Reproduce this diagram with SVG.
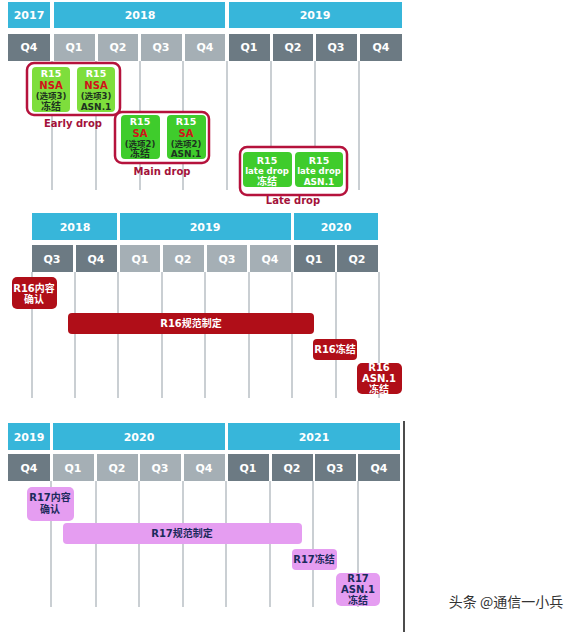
<svg xmlns="http://www.w3.org/2000/svg" width="580" height="632" viewBox="0 0 580 632">
<defs>
<style>
.yr{fill:#37b6da}
.qd{fill:#6c7a83}
.ql{fill:#a5afb5}
.ht{font-family:"DejaVu Sans","Noto Sans CJK SC",sans-serif;font-weight:bold;font-size:11px;fill:#fff;text-anchor:middle}
.grid line{stroke:#b9bfc5;stroke-width:1.5}
.grp{fill:#fff;stroke:#b5123c;stroke-width:2.5}
.gl{fill:#7ede3c}
.gs{fill:#3fcc2c}
.t{font-family:"DejaVu Sans","Noto Sans CJK SC",sans-serif;font-weight:bold;text-anchor:middle}
.w{fill:#fff}
.rd{fill:#d0141a}
.dk{fill:#1d3320}
.lbl{font-family:"DejaVu Sans",sans-serif;font-weight:bold;font-size:10px;fill:#a3123a;text-anchor:middle}
.r16{fill:#b00e18}
.r17{fill:#e59df1}
.nv{fill:#1b2a5c}
</style>
</defs>

<!-- Section 1 header -->
<g id="header1">
<rect class="yr" x="8" y="2" width="42" height="26"/>
<rect class="yr" x="54" y="2" width="171" height="26"/>
<rect class="yr" x="229" y="2" width="173" height="26"/>
<text class="ht" x="29" y="19">2017</text>
<text class="ht" x="140" y="19">2018</text>
<text class="ht" x="315" y="19">2019</text>
<rect class="qd" x="8" y="34" width="42" height="27"/>
<rect class="ql" x="54" y="34" width="41" height="27"/>
<rect class="ql" x="98" y="34" width="40" height="27"/>
<rect class="ql" x="141" y="34" width="41" height="27"/>
<rect class="ql" x="185" y="34" width="40" height="27"/>
<rect class="qd" x="229" y="34" width="41" height="27"/>
<rect class="qd" x="273" y="34" width="40" height="27"/>
<rect class="qd" x="316" y="34" width="41" height="27"/>
<rect class="qd" x="360" y="34" width="42" height="27"/>
<text class="ht" x="29" y="51">Q4</text>
<text class="ht" x="74" y="51">Q1</text>
<text class="ht" x="118" y="51">Q2</text>
<text class="ht" x="161" y="51">Q3</text>
<text class="ht" x="205" y="51">Q4</text>
<text class="ht" x="249" y="51">Q1</text>
<text class="ht" x="293" y="51">Q2</text>
<text class="ht" x="336" y="51">Q3</text>
<text class="ht" x="381" y="51">Q4</text>
</g>

<g id="connectors">
<g class="grid">
<line x1="52" y1="61" x2="52" y2="190"/>
<line x1="96" y1="61" x2="96" y2="190"/>
<line x1="140" y1="61" x2="140" y2="190"/>
<line x1="183" y1="61" x2="183" y2="190"/>
<line x1="227" y1="61" x2="227" y2="190"/>
<line x1="271" y1="61" x2="271" y2="190"/>
<line x1="315" y1="61" x2="315" y2="190"/>
<line x1="359" y1="61" x2="359" y2="190"/>
</g>
<g class="grid">
<line x1="32" y1="272" x2="32" y2="398"/>
<line x1="75" y1="272" x2="75" y2="398"/>
<line x1="118" y1="272" x2="118" y2="398"/>
<line x1="162" y1="272" x2="162" y2="398"/>
<line x1="205" y1="272" x2="205" y2="398"/>
<line x1="249" y1="272" x2="249" y2="398"/>
<line x1="292" y1="272" x2="292" y2="398"/>
<line x1="336" y1="272" x2="336" y2="398"/>
<line x1="379" y1="272" x2="379" y2="398"/>
</g>
<g class="grid">
<line x1="51" y1="481" x2="51" y2="607"/>
<line x1="96" y1="481" x2="96" y2="607"/>
<line x1="139" y1="481" x2="139" y2="607"/>
<line x1="183" y1="481" x2="183" y2="607"/>
<line x1="226" y1="481" x2="226" y2="607"/>
<line x1="270" y1="481" x2="270" y2="607"/>
<line x1="313" y1="481" x2="313" y2="607"/>
<line x1="358" y1="481" x2="358" y2="607"/>
</g>
</g>

<!-- Early drop -->
<g id="early-drop">
<rect class="grp" x="27" y="63" width="93" height="52" rx="7"/>
<rect class="gl" x="32" y="67" width="38" height="45" rx="4"/>
<rect class="gl" x="77" y="67" width="38" height="45" rx="4"/>
<text class="t w" x="51" y="77" font-size="9.5">R15</text>
<text class="t rd" x="51" y="89" font-size="10">NSA</text>
<text class="t dk" x="51" y="99" font-size="8.5">(选项3)</text>
<text class="t dk" x="51" y="110" font-size="10">冻结</text>
<text class="t w" x="96" y="77" font-size="9.5">R15</text>
<text class="t rd" x="96" y="89" font-size="10">NSA</text>
<text class="t dk" x="96" y="99" font-size="8.5">(选项3)</text>
<text class="t dk" x="96" y="110" font-size="9">ASN.1</text>
<text class="lbl" x="73" y="127">Early drop</text>
</g>

<!-- Main drop -->
<g id="main-drop">
<rect class="grp" x="115" y="112" width="94" height="51" rx="7"/>
<rect class="gs" x="121" y="115" width="39" height="44" rx="4"/>
<rect class="gs" x="167" y="115" width="39" height="44" rx="4"/>
<text class="t w" x="140" y="125" font-size="9.5">R15</text>
<text class="t rd" x="140" y="137" font-size="10">SA</text>
<text class="t dk" x="140" y="147" font-size="8.5">(选项2)</text>
<text class="t dk" x="140" y="157" font-size="10">冻结</text>
<text class="t w" x="186" y="125" font-size="9.5">R15</text>
<text class="t rd" x="186" y="137" font-size="10">SA</text>
<text class="t dk" x="186" y="147" font-size="8.5">(选项2)</text>
<text class="t dk" x="186" y="157" font-size="9">ASN.1</text>
<text class="lbl" x="162" y="175">Main drop</text>
</g>

<!-- Late drop -->
<g id="late-drop">
<rect class="grp" x="240" y="147" width="107" height="48" rx="7"/>
<rect class="gs" x="243" y="152" width="49" height="35" rx="4"/>
<rect class="gs" x="295" y="152" width="48" height="35" rx="4"/>
<text class="t w" x="267" y="164" font-size="9.5">R15</text>
<text class="t w" x="267" y="174" font-size="8.5">late drop</text>
<text class="t w" x="267" y="185" font-size="10">冻结</text>
<text class="t w" x="319" y="164" font-size="9.5">R15</text>
<text class="t w" x="319" y="174" font-size="8.5">late drop</text>
<text class="t w" x="319" y="185" font-size="9">ASN.1</text>
<text class="lbl" x="293" y="204">Late drop</text>
</g>

<!-- Section 2 header -->
<g id="header2">
<rect class="yr" x="32" y="213" width="85" height="27"/>
<rect class="yr" x="120" y="213" width="171" height="27"/>
<rect class="yr" x="294" y="213" width="84" height="27"/>
<text class="ht" x="75" y="231">2018</text>
<text class="ht" x="205" y="231">2019</text>
<text class="ht" x="336" y="231">2020</text>
<rect class="qd" x="32" y="245" width="41" height="27"/>
<rect class="qd" x="76" y="245" width="41" height="27"/>
<rect class="ql" x="120" y="245" width="40" height="27"/>
<rect class="ql" x="163" y="245" width="41" height="27"/>
<rect class="ql" x="207" y="245" width="40" height="27"/>
<rect class="ql" x="250" y="245" width="41" height="27"/>
<rect class="qd" x="294" y="245" width="41" height="27"/>
<rect class="qd" x="337" y="245" width="41" height="27"/>
<text class="ht" x="52" y="263">Q3</text>
<text class="ht" x="96" y="263">Q4</text>
<text class="ht" x="140" y="263">Q1</text>
<text class="ht" x="183" y="263">Q2</text>
<text class="ht" x="227" y="263">Q3</text>
<text class="ht" x="270" y="263">Q4</text>
<text class="ht" x="314" y="263">Q1</text>
<text class="ht" x="357" y="263">Q2</text>
</g>

<g id="r16-content">
<rect class="r16" x="12" y="277" width="45" height="32" rx="5"/>
<text class="t w" x="34" y="292" font-size="10">R16内容</text>
<text class="t w" x="34" y="303" font-size="10">确认</text>
</g>
<g id="r16-spec">
<rect class="r16" x="68" y="313" width="246" height="21" rx="4"/>
<text class="t w" x="191" y="327" font-size="10">R16规范制定</text>
</g>
<g id="r16-freeze">
<rect class="r16" x="313" y="339" width="44" height="21" rx="4"/>
<text class="t w" x="335" y="353" font-size="10">R16冻结</text>
</g>
<g id="r16-asn">
<rect class="r16" x="357" y="363" width="45" height="31" rx="5"/>
<text class="t w" x="379" y="371" font-size="10">R16</text>
<text class="t w" x="379" y="382" font-size="10">ASN.1</text>
<text class="t w" x="379" y="393" font-size="10">冻结</text>
</g>

<!-- Section 3 header -->
<g id="header3">
<rect class="yr" x="8" y="423" width="42" height="27"/>
<rect class="yr" x="53" y="423" width="172" height="27"/>
<rect class="yr" x="228" y="423" width="172" height="27"/>
<text class="ht" x="29" y="441">2019</text>
<text class="ht" x="139" y="441">2020</text>
<text class="ht" x="314" y="441">2021</text>
<rect class="qd" x="8" y="454" width="42" height="27"/>
<rect class="ql" x="53" y="454" width="41" height="27"/>
<rect class="ql" x="97" y="454" width="41" height="27"/>
<rect class="ql" x="140" y="454" width="41" height="27"/>
<rect class="ql" x="184" y="454" width="41" height="27"/>
<rect class="qd" x="228" y="454" width="41" height="27"/>
<rect class="qd" x="272" y="454" width="41" height="27"/>
<rect class="qd" x="315" y="454" width="41" height="27"/>
<rect class="qd" x="358" y="454" width="42" height="27"/>
<text class="ht" x="29" y="472">Q4</text>
<text class="ht" x="73" y="472">Q1</text>
<text class="ht" x="117" y="472">Q2</text>
<text class="ht" x="160" y="472">Q3</text>
<text class="ht" x="204" y="472">Q4</text>
<text class="ht" x="248" y="472">Q1</text>
<text class="ht" x="292" y="472">Q2</text>
<text class="ht" x="335" y="472">Q3</text>
<text class="ht" x="379" y="472">Q4</text>
</g>
<line x1="404" y1="421" x2="404" y2="632" stroke="#111" stroke-width="1.5"/>

<g id="r17-content">
<rect class="r17" x="27" y="487" width="47" height="34" rx="5"/>
<text class="t nv" x="50" y="501" font-size="10">R17内容</text>
<text class="t nv" x="50" y="513" font-size="10">确认</text>
</g>
<g id="r17-spec">
<rect class="r17" x="63" y="523" width="239" height="21" rx="4"/>
<text class="t nv" x="182" y="537" font-size="10">R17规范制定</text>
</g>
<g id="r17-freeze">
<rect class="r17" x="292" y="549" width="45" height="21" rx="4"/>
<text class="t nv" x="314" y="563" font-size="10">R17冻结</text>
</g>
<g id="r17-asn">
<rect class="r17" x="336" y="573" width="44" height="33" rx="5"/>
<text class="t nv" x="358" y="582" font-size="10">R17</text>
<text class="t nv" x="358" y="593" font-size="10">ASN.1</text>
<text class="t nv" x="358" y="604" font-size="10">冻结</text>
</g>

<text x="506" y="607" font-family="'Noto Sans CJK SC',sans-serif" font-size="14" fill="#333" text-anchor="middle">头条 @通信一小兵</text>
</svg>
